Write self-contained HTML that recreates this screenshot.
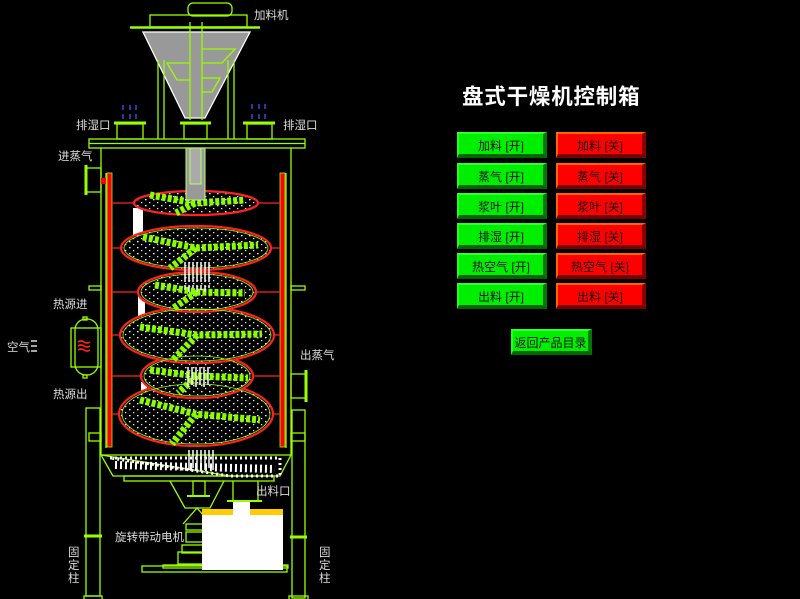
<!DOCTYPE html>
<html><head><meta charset="utf-8"><style>
html,body{margin:0;padding:0;background:#000;width:800px;height:599px;overflow:hidden}
svg{position:absolute;left:0;top:0}
text{font-family:"Liberation Sans","Noto Sans CJK SC",sans-serif}
.btn{position:absolute;width:90px;height:26px;box-sizing:border-box;font:12px "Liberation Sans","Noto Sans CJK SC",sans-serif;color:#111;text-align:center;line-height:24px;white-space:pre}
.g{background:#00ee00;border-top:2px solid #33ff33;border-left:2px solid #22ff22;border-right:4px solid #007700;border-bottom:4px solid #006600}
.r{background:#ff0000;border-top:2px solid #ff6600;border-left:2px solid #ff6600;border-right:4px solid #880000;border-bottom:4px solid #770000}
</style></head><body>
<svg width="800" height="599" viewBox="0 0 800 599">
<defs>
<pattern id="dots" width="8" height="6" patternUnits="userSpaceOnUse">
<rect width="8" height="6" fill="#000"/>
<rect x="1" y="1" width="1.5" height="1.3" fill="#fff"/>
<rect x="5" y="4" width="1.3" height="1.2" fill="#eee"/>
</pattern>
</defs>
<g fill="none" stroke="#99ff00" stroke-width="1.3">
<rect x="188" y="3" width="44" height="13" rx="5"/>
<rect x="150" y="15" width="97" height="12"/>
<line x1="130" y1="27.5" x2="260" y2="27.5" stroke-width="2.5"/>
<polygon points="143,32 250,32 205,118 185,118" fill="#999" stroke="#fff"/>
<line x1="190" y1="22" x2="190" y2="120"/><line x1="202" y1="22" x2="202" y2="120"/>
<polyline points="202,49 235,49 222,63 202,63"/><polyline points="190,63 167,63 177,80 190,80"/>
<polyline points="202,78 220,78 212,92 202,92"/>
<line x1="158" y1="60" x2="158" y2="139"/><line x1="164" y1="60" x2="164" y2="139"/>
<line x1="228" y1="60" x2="228" y2="139"/><line x1="234" y1="60" x2="234" y2="139"/>
<line x1="114" y1="123" x2="146" y2="123" stroke-width="3"/><rect x="117" y="124" width="26" height="15"/>
<line x1="243" y1="123" x2="275" y2="123" stroke-width="3"/><rect x="247" y="124" width="25" height="15"/>
<line x1="180" y1="123" x2="211" y2="123" stroke-width="3"/><rect x="184" y="124" width="23" height="15"/>
<rect x="89" y="139" width="216" height="9"/><line x1="89" y1="143.5" x2="305" y2="143.5"/>
<line x1="101" y1="148" x2="101" y2="455"/><line x1="291" y1="148" x2="291" y2="455"/>
<line x1="286" y1="173" x2="286" y2="448"/><line x1="106" y1="173" x2="106" y2="448"/>
<line x1="86" y1="165" x2="86" y2="195" stroke-width="3"/><rect x="86" y="168" width="15" height="24"/>
<line x1="306" y1="370" x2="306" y2="402" stroke-width="3"/><rect x="291" y="374" width="15" height="24"/>
<rect x="89" y="286" width="12" height="4"/><rect x="291" y="286" width="14" height="4"/>
<rect x="89" y="433" width="12" height="8"/><rect x="291" y="433" width="14" height="8"/>
<rect x="71" y="328" width="30" height="39"/>
<rect x="75" y="319" width="23" height="56" rx="11"/>
<rect x="83" y="317" width="4" height="3"/><rect x="83" y="375" width="4" height="3"/>
<line x1="101" y1="455" x2="291" y2="455"/>
<polyline points="101,455 113,476 280,476 291,455"/>
<line x1="101" y1="455" x2="230" y2="476"/>
<rect x="124" y="476" width="150" height="5"/>
<polyline points="170,481 185,508 210,508 224,481"/>
<line x1="233" y1="481" x2="233" y2="501"/><line x1="258" y1="481" x2="258" y2="501"/>
<line x1="227" y1="501" x2="262" y2="501" stroke-width="2"/>
<rect x="193" y="481" width="12" height="15"/><line x1="187" y1="496" x2="210" y2="496" stroke-width="2"/>
<polyline points="183,524 197,508 211,524"/>
<rect x="186" y="524" width="30" height="6"/><rect x="186" y="532" width="30" height="10"/>
<rect x="182" y="545" width="30" height="8"/><rect x="178" y="552" width="34" height="12"/>
<rect x="142" y="566" width="145" height="6"/><rect x="163" y="565" width="125" height="3"/>
<rect x="86" y="408" width="14" height="188"/><rect x="84" y="596" width="18" height="4"/>
<line x1="84" y1="536" x2="102" y2="536" stroke-width="3"/>
<rect x="292" y="410" width="13" height="188"/><rect x="289" y="596" width="19" height="4"/>
<line x1="290" y1="537" x2="307" y2="537" stroke-width="3"/>
</g>
<g stroke="#ff2222" stroke-width="1.6" fill="none">
<path d="M78,342 q3,-2 6,0 t6,0"/><path d="M78,346 q3,-2 6,0 t6,0"/><path d="M78,350 q3,-2 6,0 t6,0"/>
</g>
<g stroke="#fff" stroke-width="1.3"><line x1="31" y1="341" x2="37" y2="341"/><line x1="31" y1="346" x2="37" y2="346"/><line x1="31" y1="351" x2="37" y2="351"/></g>
<g stroke="#4455ff" stroke-width="1.3">
<line x1="123" y1="105" x2="123" y2="110"/><line x1="130" y1="105" x2="130" y2="110"/><line x1="136" y1="105" x2="136" y2="110"/>
<line x1="123" y1="114" x2="123" y2="119"/><line x1="130" y1="114" x2="130" y2="119"/><line x1="136" y1="114" x2="136" y2="119"/>
<line x1="252" y1="104" x2="252" y2="109"/><line x1="259" y1="104" x2="259" y2="109"/><line x1="265" y1="104" x2="265" y2="109"/>
<line x1="252" y1="114" x2="252" y2="119"/><line x1="259" y1="114" x2="259" y2="119"/><line x1="265" y1="114" x2="265" y2="119"/>
</g>
<rect x="107" y="173" width="5" height="274" fill="#ff0000" stroke="#99ff00" stroke-width="0.8"/>
<rect x="280" y="173" width="5" height="274" fill="#ff0000" stroke="#99ff00" stroke-width="0.8"/>
<rect x="101" y="178" width="5" height="6" fill="#f00"/>
<g stroke="#ff2222" stroke-width="1.2">
<line x1="112" y1="203" x2="280" y2="203"/><line x1="112" y1="248" x2="280" y2="248"/>
<line x1="112" y1="292" x2="280" y2="292"/><line x1="112" y1="335" x2="280" y2="335"/>
<line x1="112" y1="376" x2="280" y2="376"/><line x1="112" y1="414" x2="280" y2="414"/>
</g>
<path d="M110,458 L280,458 L280,476 L230,476 Z" fill="none" stroke="#fff" stroke-width="3" stroke-dasharray="2,3"/>
<line x1="115" y1="465" x2="275" y2="469" stroke="#fff" stroke-width="8" stroke-dasharray="2,3"/>
<rect x="133" y="208" width="10" height="32" fill="#fff"/>
<rect x="138" y="296" width="7" height="22" fill="#fff"/>
<rect x="141" y="382" width="6" height="12" fill="#fff"/>
<g stroke="#ff2222" stroke-width="2.2" fill="url(#dots)">
<ellipse cx="196" cy="414" rx="77" ry="32"/>
<ellipse cx="197" cy="376" rx="56" ry="22"/>
<ellipse cx="197" cy="335" rx="77" ry="28"/>
<ellipse cx="197" cy="292" rx="59" ry="20"/>
<ellipse cx="196" cy="248" rx="75" ry="22"/>
<ellipse cx="196" cy="203" rx="62" ry="12"/>
</g>
<g stroke="#99ff00" stroke-width="0.8" fill="none">
<ellipse cx="196" cy="414" rx="74" ry="30"/>
<ellipse cx="197" cy="376" rx="53" ry="20"/>
<ellipse cx="197" cy="335" rx="74" ry="26"/>
<ellipse cx="197" cy="292" rx="56" ry="18"/>
<ellipse cx="196" cy="248" rx="72" ry="20"/>
</g>
<g stroke="#88ff00" stroke-width="7" stroke-dasharray="4,2" fill="none">
<path d="M150,195 L195,203 L245,200 M195,203 L176,213"/>
<path d="M143,237 L196,248 L258,245 M196,248 L170,268"/>
<path d="M155,285 L197,292 L245,293 M197,292 L172,309"/>
<path d="M140,327 L197,335 L262,334 M197,335 L172,361"/>
<path d="M150,370 L197,376 L248,378 M197,376 L178,393"/>
<path d="M140,400 L196,414 L260,420 M196,414 L172,444"/>
</g>
<g stroke="#fff" stroke-width="1.5" stroke-dasharray="20,3">
<path d="M185,262 v28 M189,262 v30 M193,262 v26 M197,262 v30 M201,262 v28 M205,262 v30 M209,262 v26"/>
<path d="M188,367 v20 M192,367 v18 M196,367 v20 M200,367 v18 M204,367 v20 M208,367 v18"/>
<path d="M189,450 v20 M193,450 v18 M197,450 v20 M201,450 v18 M205,450 v20 M209,450 v18 M213,450 v20"/>
</g>
<rect x="186" y="148" width="19" height="52" fill="#999" stroke="#bbff66" stroke-width="1"/>
<rect x="190" y="148" width="11" height="36" fill="#aaa" stroke="#bbff66" stroke-width="1"/>
<rect x="233" y="502" width="17" height="10" fill="#fff"/>
<rect x="202" y="509" width="81" height="61" fill="#fff"/>
<rect x="202" y="509" width="31" height="6" fill="#ffcc00"/><rect x="250" y="509" width="33" height="6" fill="#ffcc00"/>
<g fill="#ddd" font-size="11.5">
<text x="254" y="19">加料机</text>
<text x="76" y="129">排湿口</text><text x="283" y="129">排湿口</text>
<text x="58" y="160">进蒸气</text>
<text x="53" y="308">热源进</text>
<text x="7" y="351">空气</text>
<text x="53" y="398">热源出</text>
<text x="300" y="359">出蒸气</text>
<text x="256" y="495">出料口</text>
<text x="115" y="541">旋转带动电机</text>
<text x="68" y="556">固</text><text x="68" y="569">定</text><text x="68" y="582">柱</text>
<text x="319" y="556">固</text><text x="319" y="569">定</text><text x="319" y="582">柱</text>
</g>
<text x="462" y="104" fill="#fff" font-size="21.5" font-weight="bold" letter-spacing="0.8">盘式干燥机控制箱</text>
</svg>
<div class="btn g" style="left:457px;top:132px">加料 [开]</div>
<div class="btn r" style="left:556px;top:132px">加料 [关]</div>
<div class="btn g" style="left:457px;top:163px">蒸气 [开]</div>
<div class="btn r" style="left:556px;top:163px">蒸气 [关]</div>
<div class="btn g" style="left:457px;top:193px">浆叶 [开]</div>
<div class="btn r" style="left:556px;top:193px">浆叶 [关]</div>
<div class="btn g" style="left:457px;top:223px">排湿 [开]</div>
<div class="btn r" style="left:556px;top:223px">排湿 [关]</div>
<div class="btn g" style="left:457px;top:253px">热空气 [开]</div>
<div class="btn r" style="left:556px;top:253px">热空气 [关]</div>
<div class="btn g" style="left:457px;top:283px">出料 [开]</div>
<div class="btn r" style="left:556px;top:283px">出料 [关]</div>
<div class="btn g" style="left:511px;top:329px;width:81px">返回产品目录</div>
</body></html>
